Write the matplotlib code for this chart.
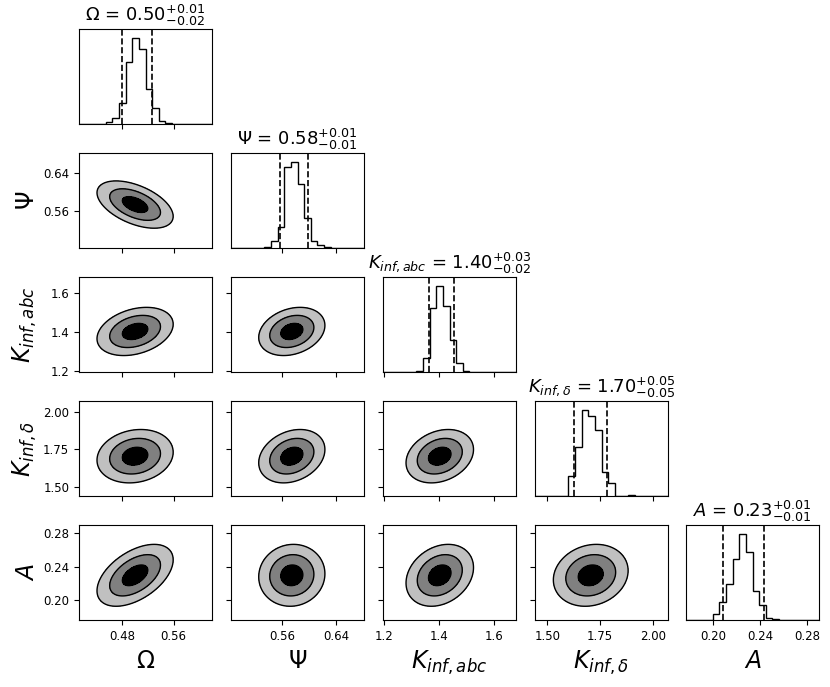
import numpy as np
import matplotlib
matplotlib.use("Agg")
import matplotlib.pyplot as plt

# ---------------- data ----------------
labels = [r"$\Omega$", r"$\Psi$", r"$K_{inf, abc}$", r"$K_{inf,\delta}$", r"$A$"]
title_vals = ["0.50", "0.58", "1.40", "1.70", "0.23"]
title_minus = ["0.02", "0.01", "0.02", "0.05", "0.01"]
title_plus = ["0.01", "0.01", "0.03", "0.05", "0.01"]

ranges = [(0.4125, 0.620), (0.483, 0.682), (1.195, 1.68), (1.441, 2.071), (0.1767, 0.290)]
ticks = [[0.48, 0.56], [0.56, 0.64], [1.2, 1.4, 1.6], [1.50, 1.75, 2.00], [0.20, 0.24, 0.28]]
tick_labels = [["0.48", "0.56"], ["0.56", "0.64"], ["1.2", "1.4", "1.6"],
               ["1.50", "1.75", "2.00"], ["0.20", "0.24", "0.28"]]

# 20-bin histograms (relative heights, peak = 1)
hist_omega = [0, 0, 0, 0.005, 0.02, 0.07, 0.24, 0.72, 1.00, 0.87,
              0.41, 0.19, 0.03, 0.01, 0, 0, 0, 0, 0, 0]
hist_psi = [0, 0, 0, 0, 0, 0.01, 0.08, 0.24, 0.94, 1.00,
            0.74, 0.35, 0.08, 0.04, 0.01, 0, 0, 0, 0, 0]
hist_kabc = [0, 0, 0, 0, 0, 0.01, 0.165, 0.74, 1.00, 0.76,
             0.365, 0.10, 0.01, 0, 0, 0, 0, 0, 0, 0]
hist_kdelta = [0, 0, 0, 0, 0, 0.23, 0.565, 1.00, 0.93, 0.77,
               0.28, 0.146, 0, 0, 0.012, 0, 0, 0, 0, 0]
hist_a = [0, 0, 0, 0, 0.065, 0.21, 0.42, 0.71, 1.00, 0.79,
          0.34, 0.17, 0.027, 0.008, 0.004, 0.002, 0, 0, 0, 0]
hists = [hist_omega, hist_psi, hist_kabc, hist_kdelta, hist_a]

# dashed quantile lines
q_low = [0.480, 0.5565, 1.364, 1.628, 0.2085]
q_high = [0.527, 0.5975, 1.4545, 1.784, 0.2435]

# 2D posterior shape (centre, spread, correlation) per parameter / pair
means = [0.500, 0.574, 1.402, 1.705, 0.230]
sigmas = [0.0198, 0.0165, 0.041, 0.059, 0.0123]
corr = np.array([
    [1.00, -0.50, 0.30, 0.15, 0.50],
    [-0.50, 1.00, 0.25, 0.25, 0.05],
    [0.30, 0.25, 1.00, 0.25, 0.25],
    [0.15, 0.25, 0.25, 1.00, 0.15],
    [0.50, 0.05, 0.25, 0.15, 1.00],
])
sigma_levels = [1.0, 2.0, 3.0]
fill_colors = ["#c0c0c0", "#808080", "#000000"]

# ---------------- figure ----------------
W, H = 830, 687
fig = plt.figure(figsize=(W / 100, H / 100), dpi=100)
n = 5
col_left = [79, 231, 383, 535, 686]
row_top = [29, 153, 277, 401, 525]
aw, ah = 133, 95

def make_ax(r, c):
    return fig.add_axes([col_left[c] / W, 1 - (row_top[r] + ah) / H, aw / W, ah / H])

tick_fs = 8.5
label_fs = 17
title_fs = 13

for i in range(n):
    for j in range(i + 1):
        ax = make_ax(i, j)
        if i == j:
            lo, hi = ranges[i]
            edges = np.linspace(lo, hi, len(hists[i]) + 1)
            vals = np.array(hists[i])
            ax.stairs(vals, edges, color="k", lw=1.0)
            ax.axvline(q_low[i], color="k", ls="--", lw=1.2)
            ax.axvline(q_high[i], color="k", ls="--", lw=1.2)
            ax.set_xlim(lo, hi)
            ax.set_ylim(0, 1.1 * vals.max())
            ax.set_yticks([])
            t = "{0} = ${{{1}}}_{{-{2}}}^{{+{3}}}$".format(labels[i], title_vals[i],
                                                          title_minus[i], title_plus[i])
            ax.set_title(t, fontsize=title_fs)
        else:
            xlo, xhi = ranges[j]
            ylo, yhi = ranges[i]
            gx = np.linspace(xlo, xhi, 300)
            gy = np.linspace(ylo, yhi, 300)
            X, Y = np.meshgrid(gx, gy)
            sx, sy, rho = sigmas[j], sigmas[i], corr[i, j]
            dx = (X - means[j]) / sx
            dy = (Y - means[i]) / sy
            r2 = (dx ** 2 - 2 * rho * dx * dy + dy ** 2) / (1 - rho ** 2)
            Z = np.exp(-0.5 * r2)
            lev = sorted(np.exp(-0.5 * np.array(sigma_levels) ** 2))
            ax.contourf(X, Y, Z, levels=lev + [1.01], colors=fill_colors)
            ax.contour(X, Y, Z, levels=lev, colors="k", linewidths=1.0)
            ax.set_xlim(xlo, xhi)
            ax.set_ylim(ylo, yhi)
            ax.set_yticks(ticks[i])
            if j == 0:
                ax.set_yticklabels(tick_labels[i], fontsize=tick_fs)
                ax.set_ylabel(labels[i], fontsize=label_fs)
                ax.yaxis.set_label_coords(-0.3, 0.5)
            else:
                ax.set_yticklabels([])
        ax.set_xticks(ticks[j])
        if i == n - 1:
            ax.set_xticklabels(tick_labels[j], fontsize=tick_fs)
            ax.set_xlabel(labels[j], fontsize=label_fs)
            ax.xaxis.set_label_coords(0.5, -0.3)
        else:
            ax.set_xticklabels([])

fig.savefig("out.png", dpi=100)
